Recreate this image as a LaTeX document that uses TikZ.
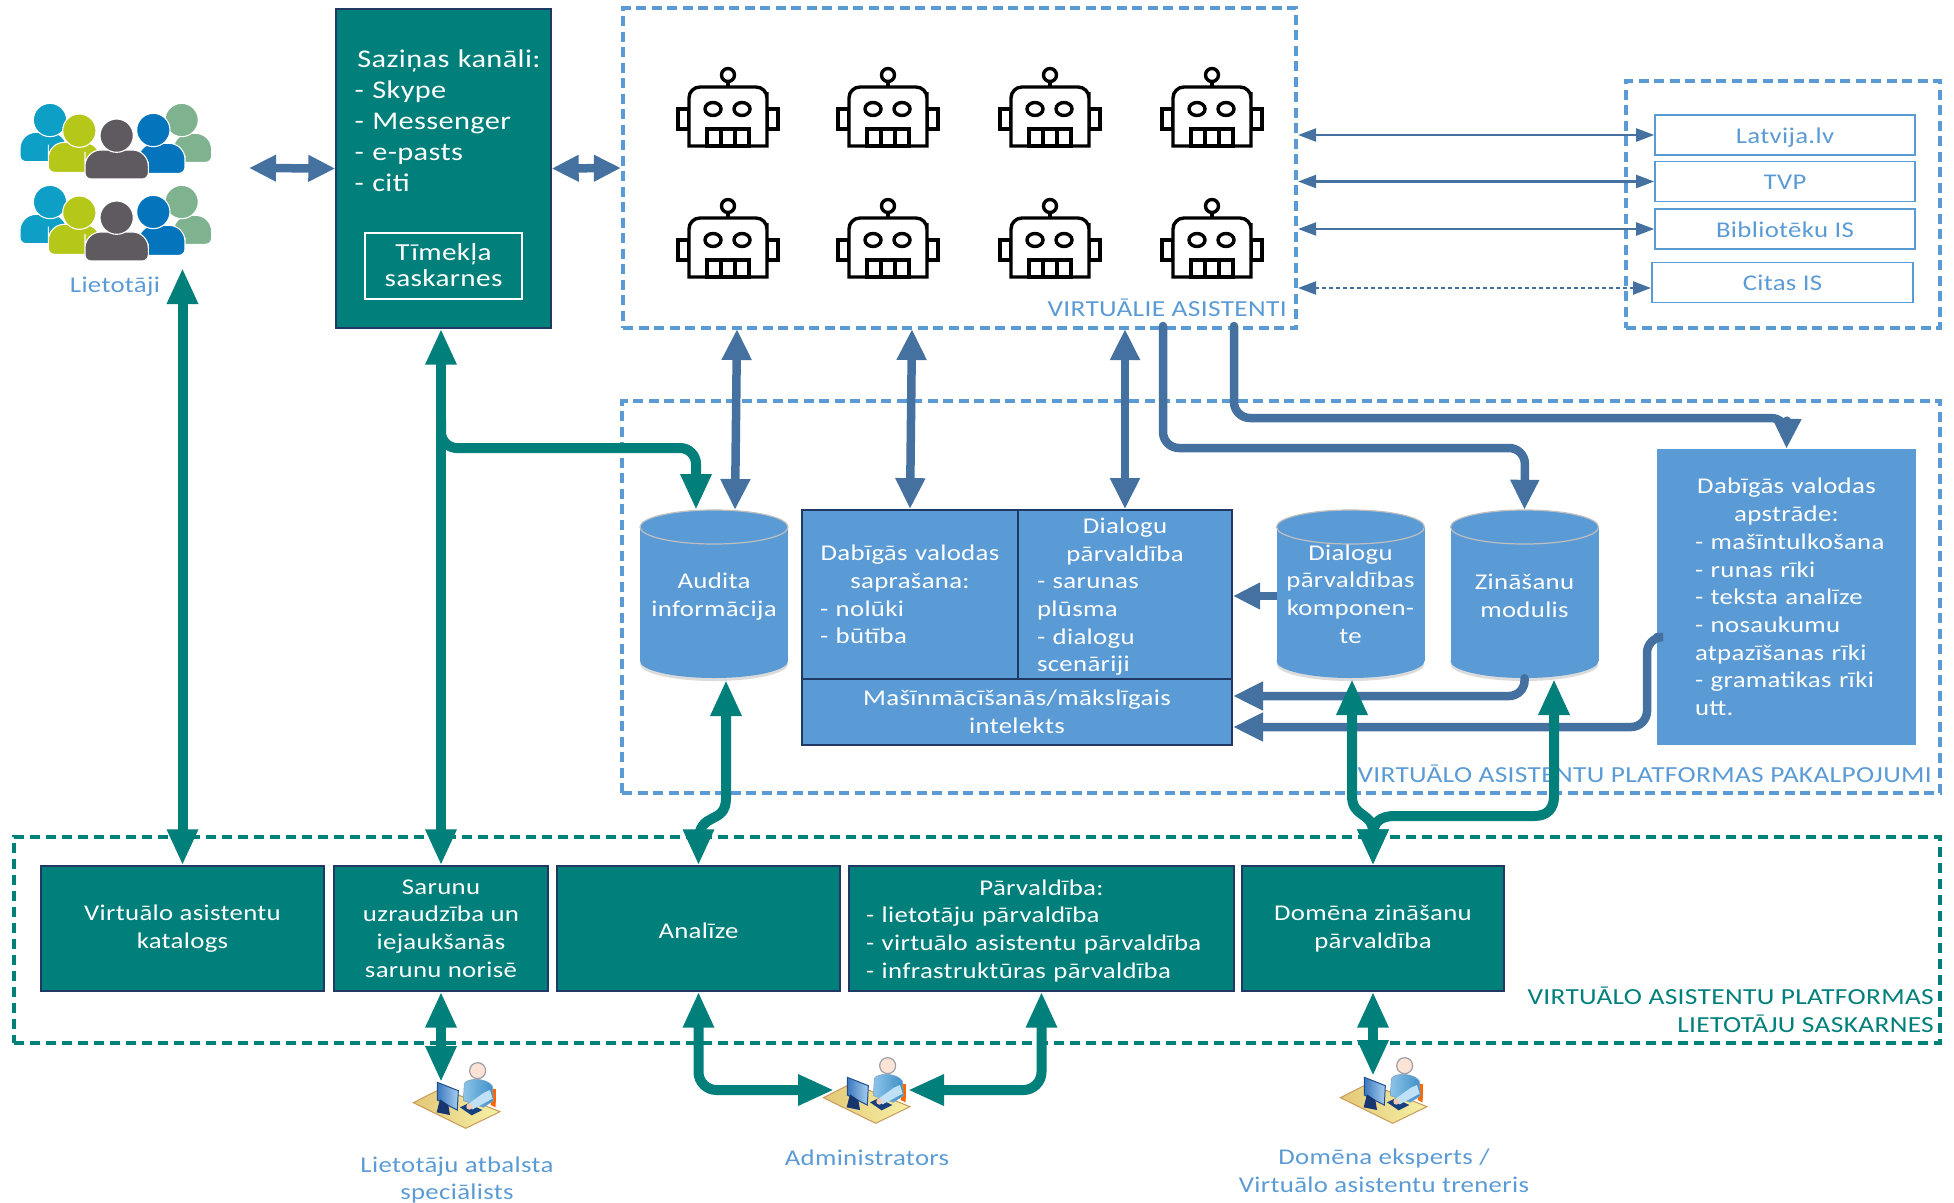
\documentclass[tikz,border=0pt]{standalone}
\usepackage{fontspec}
\setmainfont{Carlito}[FakeStretch=1.19,LetterSpace=1.5]
\usetikzlibrary{arrows.meta,calc}
\definecolor{vateal}{HTML}{007F7B}
\definecolor{vablue}{HTML}{44719F}
\definecolor{boxblue}{HTML}{5B9BD5}
\definecolor{vaborder}{HTML}{1F3864}
\newcommand\cw[2]{\makebox[#1][c]{#2}}
\newcommand\vaup[2]{\raisebox{#1}[0pt][0pt]{#2}}
\newcommand\vadp[1]{\rule[-#1]{0pt}{1pt}}
\tikzset{
 lab/.style={font=\fontsize{22.5}{27.7}\selectfont,align=center,inner sep=0pt,execute at begin node={\rule{0pt}{20pt}}},
 labb/.style={lab,text=boxblue},
 labw/.style={lab,text=white},
 labt/.style={lab,text=vateal},
 frameblue/.style={draw=boxblue,line width=4.2pt,dash pattern=on 10pt off 5.5pt},
 frameteal/.style={draw=vateal,line width=4pt,dash pattern=on 10pt off 6pt},
 tealbox/.style={labw,fill=vateal,draw=vaborder,line width=1.4pt},
 bluebox/.style={labw,fill=boxblue,draw=vaborder,line width=1.8pt},
 extbox/.style={labb,draw=boxblue,line width=1.6pt,minimum width=260pt,minimum height=40pt},
 tarrow/.style={draw=vateal,line width=10pt,rounded corners=18pt,line cap=butt,
   arrows={Triangle[length=36pt,width=29pt]-Triangle[length=36pt,width=29pt]}},
 barrow/.style={draw=vablue,line width=8.5pt,rounded corners=16pt,line cap=round,
   arrows={-Triangle[length=30pt,width=27pt]}},
 bdarrow/.style={draw=vablue,line width=8.5pt,
   arrows={Triangle[length=27pt,width=25pt]-Triangle[length=27pt,width=25pt]}},
 bvarrow/.style={bdarrow,arrows={Triangle[length=31pt,width=28pt]-Triangle[length=31pt,width=28pt]}},
 thinarrow/.style={draw=vablue,line width=2.2pt,
   arrows={Triangle[length=18pt,width=13pt]-Triangle[length=18pt,width=13pt]}},
 robotline/.style={draw=black,line width=3.4pt,fill=white},
}
% robot icon, origin between the eyes
\newcommand\varobot[2]{\begin{scope}[shift={(#1,#2)}]
 \draw[robotline,line join=miter] (-50,0) rectangle (-39,20);
 \draw[robotline,line join=miter] (39,0) rectangle (50,20);
 \draw[draw=black,line width=3.4pt] (0,-28) -- (0,-22);
 \draw[robotline] (0,-34) circle[radius=6.5];
 \draw[robotline] (-39,37) -- (-39,-6) [rounded corners=11pt] -- (-39,-22) -- (39,-22) -- (39,-6) [sharp corners] -- (39,37) -- cycle;
 \draw[robotline] (-15,0) ellipse[x radius=8pt,y radius=6.5pt];
 \draw[robotline] (14,0) ellipse[x radius=8pt,y radius=6.5pt];
 \draw[robotline] (-21,20) rectangle (21,37);
 \draw[draw=black,line width=3.4pt] (-7,20) -- (-7,37) (7,20) -- (7,37);
\end{scope}}
% cylinder: name, centre x, text, text centre y
\newcommand\vacyl[4]{\begin{scope}[shift={(#2,0)}]
 \fill[black,opacity=.14] (0,664) ellipse[x radius=74pt,y radius=17pt];
 \fill[boxblue] (-74,527) rectangle (74,661);
 \fill[boxblue] (0,661) ellipse[x radius=74pt,y radius=17pt];
 \draw[fill=boxblue,draw=black!25,line width=1.2pt] (0,527) ellipse[x radius=74pt,y radius=17pt];
 \node[inner sep=0pt,minimum width=148pt,minimum height=168pt] (#1) at (0,594) {};
 \node[labw] (#1t) at (0,#4) {#3};
\end{scope}}
% one person of the user group
\newcommand\vaperson[7]{%
 \pgfmathsetmacro\vamid{(#4+#6)/2+10}
 \draw[fill=#7,draw=white,line width=1.1pt,rounded corners=6pt] (#3,\vamid) -- (#3,#6) -- (#5,#6) -- (#5,\vamid) [rounded corners=16pt] -- (#5,#4) -- (#3,#4) -- cycle;
 \draw[fill=#7,draw=white,line width=1.1pt] (#1,#2) circle[radius=50];}
\newcommand\vagroup[1]{\begin{scope}[shift={(10,#1)},x=.3333pt,y=-.3333pt]
 \vaperson{120}{75}{30}{112}{170}{200}{va1}
 \vaperson{515}{75}{490}{115}{605}{202}{va5}
 \vaperson{208}{107}{115}{142}{270}{232}{va2}
 \vaperson{430}{105}{385}{145}{525}{235}{va4}
 \vaperson{320}{122}{225}{165}{415}{252}{va3}
\end{scope}}
\definecolor{va1}{HTML}{0E9FC6}\definecolor{va2}{HTML}{B5C81A}\definecolor{va3}{HTML}{5F5A5F}
\definecolor{va4}{HTML}{0474BD}\definecolor{va5}{HTML}{7FB28F}
% workstation icon
\newcommand\vadesk[2]{\begin{scope}[shift={(#1,#2)},x=.3333pt,y=-.3333pt]
 \draw[left color=E3C877,right color=F6F0A6,draw=C99A5B,line width=1pt] (40,158) -- (125,115) -- (300,185) -- (197,235) -- cycle;
 \fill[orange!80!red] (275,115) -- (288,118) -- (287,172) -- (272,165) -- cycle;
 \draw[left color=8DC4E8,right color=3E8FC8,draw=7FA6C4,line width=.6pt] (190,152) -- (193,100) .. controls (205,82) and (262,84) .. (277,108) -- (280,152) -- (250,172) -- cycle;
 \fill[17407F] (180,172) -- (205,160) -- (247,180) -- (215,196) -- cycle;
 \fill[BFE0F5] (270,120) -- (278,146) -- (218,178) -- (200,165) -- (252,128) -- cycle;
 \fill[F4C9B0] (208,170) circle[radius=9];
 \draw[fill=FBE3D6,draw=9E9EA8,line width=1.2pt] (233,62) circle[radius=24];
 \draw[left color=3A78BE,right color=A9CFF0,draw=1F4E8F,line width=1pt] (112,97) -- (175,122) -- (172,180) -- (112,150) -- cycle;
 \fill[17356E] (120,148) -- (145,165) -- (150,195) -- (110,187) -- cycle;
\end{scope}}
\definecolor{E3C877}{HTML}{E3C877}\definecolor{F6F0A6}{HTML}{F6F0A6}\definecolor{C99A5B}{HTML}{C99A5B}
\definecolor{8DC4E8}{HTML}{8DC4E8}\definecolor{3E8FC8}{HTML}{3E8FC8}\definecolor{7FA6C4}{HTML}{7FA6C4}
\definecolor{17407F}{HTML}{17407F}\definecolor{BFE0F5}{HTML}{BFE0F5}\definecolor{F4C9B0}{HTML}{F4C9B0}
\definecolor{FBE3D6}{HTML}{FBE3D6}\definecolor{9E9EA8}{HTML}{9E9EA8}\definecolor{3A78BE}{HTML}{3A78BE}
\definecolor{A9CFF0}{HTML}{A9CFF0}\definecolor{1F4E8F}{HTML}{1F4E8F}\definecolor{17356E}{HTML}{17356E}
\begin{document}
\begin{tikzpicture}[x=1pt,y=-1pt]
\useasboundingbox (0,0) rectangle (1954,1202);
% frames
\node[frameblue,minimum width=673pt,minimum height=320pt,inner sep=0pt] (vabox) at (959.5,168) {};
\node[frameblue,minimum width=314pt,minimum height=247pt,inner sep=0pt] (ext) at (1783,204.5) {};
\node[frameblue,minimum width=1318pt,minimum height=392pt,inner sep=0pt] (platform) at (1281,597) {};
\node[frameteal,minimum width=1926pt,minimum height=206pt,inner sep=0pt] (botframe) at (977,940) {};
% frame labels
\node[labb,anchor=east,font=\fontsize{23}{27}\selectfont] (lva) at (1287,307) {VIRTUĀLIE ASISTENTI};
\node[labb,anchor=east,font=\fontsize{23}{27}\selectfont] (lpl) at (1932,773) {VIRTUĀLO ASISTENTU PLATFORMAS PAKALPOJUMI};
\node[labt,anchor=east,align=right,font=\fontsize{23}{27.5}\selectfont] (lbt) at (1934,1010) {VIRTUĀLO ASISTENTU PLATFORMAS\\LIETOTĀJU SASKARNES};
% users
\vagroup{95}
\vagroup{177}
\node[labb] (users) at (115,284) {Lietotāji};
\coordinate (usersR) at (249,168);
\coordinate (usersT) at (182.5,268);
% channels
\node[tealbox,minimum width=215pt,minimum height=319pt] (sazinas) at (443.5,168.5) {};
\node[labw,text width=185pt,align=left,font=\fontsize{25.5}{31}\selectfont] (saztext) at (447,120)
 {\cw{189pt}{Saziņas kanāli:}\\- Skype\\- Messenger\\- e-pasts\\- citi};
\node[labw,draw=white,line width=1.6pt,minimum width=157pt,minimum height=66pt,font=\fontsize{24.5}{26.5}\selectfont] (web) at (443.5,266) {Tīmekļa\\saskarnes\vadp{2pt}};
% robots
\foreach \rx in {728,888,1050,1212}{\varobot{\rx}{109}\varobot{\rx}{240}}
% external systems
\node[extbox] (lat) at (1785,135) {\vaup{1.2pt}{Latvija.lv}};
\node[extbox] (tvp) at (1785,181.5) {\vaup{2.5pt}{TVP}};
\node[extbox] (bib) at (1785,229) {\vaup{1.2pt}{Bibliotēku IS}};
\node[extbox,minimum width=261pt] (cit) at (1782.5,282.5) {\vaup{2.5pt}{Citas IS}};
\coordinate (citL) at (1298,288);
\coordinate (citR) at (1651,288);
% platform services
\vacyl{audit}{714}{Audita\\informācija}{596.5}
\node[bluebox,minimum width=216pt,minimum height=169pt,text width=180pt,align=left] (nlu) at (910,594.5)
 {\cw{180pt}{Dabīgās valodas}\\\cw{180pt}{saprašana:}\\- nolūki\\- būtība\vadp{4.5pt}};
\node[bluebox,minimum width=214pt,minimum height=169pt,text width=176pt,align=left] (dlg) at (1125,594.5)
 {\cw{176pt}{Dialogu}\\\cw{176pt}{pārvaldība}\\- sarunas\\plūsma\\- dialogu\\scenāriji};
\node[bluebox,minimum width=430pt,minimum height=66pt] (ml) at (1017,712) {Mašīnmācīšanās/mākslīgais\\intelekts};
\vacyl{dcyl}{1350.5}{Dialogu\\pārvaldības\\komponen-\\te}{594}
\vacyl{zm}{1524.5}{Zināšanu\\modulis}{595.5}
\node[labw,fill=boxblue,minimum width=259pt,minimum height=296pt,text width=183pt,align=left] (nlp) at (1786.5,597)
 {\cw{183pt}{Dabīgās valodas}\\\cw{183pt}{apstrāde:}\\\mbox{- mašīntulkošana}\\- runas rīki\\- teksta analīze\\- nosaukumu\\atpazīšanas rīki\\- gramatikas rīki\\utt.\vadp{4.5pt}};
% bottom row
\node[tealbox,minimum width=283pt,minimum height=125pt,execute at begin node={\rule{0pt}{24pt}}] (kat) at (182.5,928.5) {Virtuālo asistentu\\katalogs};
\node[tealbox,minimum width=214pt,minimum height=125pt,execute at begin node={\rule{0pt}{22pt}}] (sar) at (441,928.5) {Sarunu\\uzraudzība un\\iejaukšanās\\sarunu norisē};
\node[tealbox,minimum width=283pt,minimum height=125pt] (ana) at (698.5,928.5) {Analīze};
\node[tealbox,minimum width=385pt,minimum height=125pt,text width=351pt,align=left] (par) at (1041.5,928.5)
 {\cw{351pt}{Pārvaldība:}\\- lietotāju pārvaldība\\- virtuālo asistentu pārvaldība\\- infrastruktūras pārvaldība};
\node[tealbox,minimum width=262pt,minimum height=125pt,execute at begin node={\rule{0pt}{24pt}}] (dom) at (1373,928.5) {Domēna zināšanu\\pārvaldība};
% workstations and their labels
\vadesk{400}{1050}
\vadesk{810}{1045}
\vadesk{1327}{1045}
\coordinate (wsS) at (441,1082);
\coordinate (wsAL) at (834,1090);
\coordinate (wsAR) at (908,1090);
\coordinate (wsE) at (1373,1076);
\node[labb] (lsup) at (457,1180) {Lietotāju atbalsta\\speciālists};
\node[labb] (ladm) at (867,1156) {Administrators};
\node[labb] (lexp) at (1384,1171) {Domēna eksperts /\\Virtuālo asistentu treneris};
% blue connectors
\draw[bdarrow] (usersR) -- (sazinas.west);
\draw[bdarrow] (sazinas.east) -- (vabox.west);
\draw[thinarrow] (lat.west -| vabox.east) -- (lat.west);
\draw[thinarrow] (tvp.west -| vabox.east) -- (tvp.west);
\draw[thinarrow] (bib.west -| vabox.east) -- (bib.west);
\draw[thinarrow,dash pattern=on 4pt off 3pt] (citL) -- (citR);
\coordinate (vaA) at (737,329);
\coordinate (auA) at (735,510);
\draw[bvarrow] (vaA) -- (auA);
\coordinate (vaB) at (912,329);
\draw[bvarrow] (vaB) -- (nlu.north);
\coordinate (vaC) at (1125,329);
\draw[bvarrow] (vaC) -- (dlg.north);
\coordinate (vaD) at (1163,326);
\coordinate (vaE) at (1234,326);
\draw[barrow] (vaD) -- (1163,448) -- (1525,448) -- (zm.north);
\draw[barrow] (vaE) -- (1234,418) -- (1787,418) -- (nlp.north);
\coordinate (dcT) at (1276.5,596);
\coordinate (dlT) at (1233,596);
\draw[barrow,line cap=butt,arrows={-Triangle[length=27pt,width=25pt]}] (dcT) -- (dlT);
\coordinate (mlA) at (1233,696);
\coordinate (mlB) at (1233,727);
\coordinate (nlpO) at (1657,637);
\draw[barrow] (zm.south) -- (1525,696) -- (mlA);
\draw[barrow] (nlpO) -- (1647,637) -- (1647,727) -- (mlB);
% teal connectors
\draw[tarrow] (kat.north) -- (usersT);
\draw[tarrow] (sar.north) -- (sar.north |- sazinas.south);
\coordinate (brA) at (441,418);
\coordinate (auT) at (696,510);
\draw[tarrow,arrows={-Triangle[length=36pt,width=29pt]},rounded corners=16pt] (brA) -- (441,448) -- (696,448) -- (auT);
\coordinate (auB) at (726,680);
\draw[tarrow,rounded corners=0pt] (ana.north) -- (698.5,842) .. controls (698.5,810) and (726,826) .. (726,798) -- (auB);
\coordinate (zmI) at (1554,679);
\draw[tarrow,rounded corners=0pt] (dom.north) -- (1373,832) .. controls (1373,812) and (1352,818) .. (1352,796) -- (1352,679);
\draw[tarrow,rounded corners=0pt] (dom.north) -- (1373,836) .. controls (1373,822) and (1380,816) .. (1395,816) -- (1534,816) .. controls (1548,816) and (1554,808) .. (1554,796) -- (zmI);
\draw[tarrow] (sar.south) -- (wsS);
\draw[tarrow] (dom.south) -- (wsE);
\draw[tarrow] (ana.south) -- (698.5,1090) -- (wsAL);
\draw[tarrow] (par.south) -- (1041.5,1090) -- (wsAR);
\end{tikzpicture}
\end{document}
